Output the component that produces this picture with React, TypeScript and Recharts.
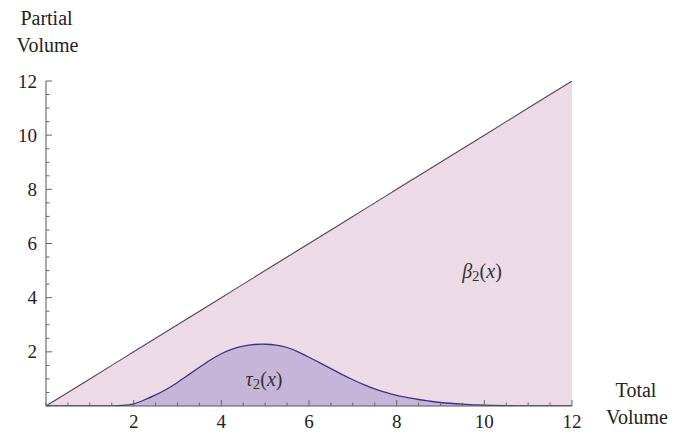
import React from "react";
import { ComposedChart, Area, XAxis, YAxis } from "recharts";

// Total volume sample points
const totalVolume = [0, 1, 1.5, 1.75, 2, 2.25, 2.5, 2.75, 3, 3.25, 3.5, 3.75, 4, 4.25, 4.5, 4.75, 5, 5.25, 5.5, 5.75, 6, 6.25, 6.5, 6.75, 7, 7.25, 7.5, 7.75, 8, 8.25, 8.5, 8.75, 9, 9.5, 10, 10.5, 11, 12];
// beta_2(x): the straight upper boundary
const beta2 = [0, 1, 1.5, 1.75, 2, 2.25, 2.5, 2.75, 3, 3.25, 3.5, 3.75, 4, 4.25, 4.5, 4.75, 5, 5.25, 5.5, 5.75, 6, 6.25, 6.5, 6.75, 7, 7.25, 7.5, 7.75, 8, 8.25, 8.5, 8.75, 9, 9.5, 10, 10.5, 11, 12];
// tau_2(x): the bell-shaped partial volume
const tau2 = [0, 0, 0, 0.02, 0.08, 0.23, 0.41, 0.62, 0.87, 1.15, 1.43, 1.7, 1.93, 2.1, 2.21, 2.27, 2.28, 2.25, 2.16, 2.0, 1.8, 1.59, 1.38, 1.17, 0.97, 0.79, 0.63, 0.5, 0.39, 0.31, 0.24, 0.18, 0.13, 0.07, 0.03, 0.01, 0, 0];

// Axis ticks (majors get labels, minors are short marks)
const xTicks = [0, 0.5, 1, 1.5, 2, 2.5, 3, 3.5, 4, 4.5, 5, 5.5, 6, 6.5, 7, 7.5, 8, 8.5, 9, 9.5, 10, 10.5, 11, 11.5, 12];
const yTicks = [0, 0.5, 1, 1.5, 2, 2.5, 3, 3.5, 4, 4.5, 5, 5.5, 6, 6.5, 7, 7.5, 8, 8.5, 9, 9.5, 10, 10.5, 11, 11.5, 12];
const labeledTicks = [2, 4, 6, 8, 10, 12];

const rows = totalVolume.map((x, i) => ({ x, beta: beta2[i], tau: tau2[i] }));

const FONT = "'Liberation Serif', 'DejaVu Serif', serif";
const TICK_COLOR = "#666";

const XTick = (props: any) => {
  const { x, y, payload } = props;
  const v = payload.value as number;
  const major = labeledTicks.includes(v);
  const len = major ? 6 : 3.5;
  return (
    <g>
      <line x1={x} x2={x} y1={y} y2={y - len} stroke={TICK_COLOR} strokeWidth={1} />
      {major && (
        <text x={x} y={y + 22} textAnchor="middle" fontSize={19} fontFamily={FONT} fill="#222">
          {v}
        </text>
      )}
    </g>
  );
};

const YTick = (props: any) => {
  const { x, y, payload } = props;
  const v = payload.value as number;
  const major = labeledTicks.includes(v);
  const len = major ? 6 : 3.5;
  return (
    <g>
      <line x1={x} x2={x + len} y1={y} y2={y} stroke={TICK_COLOR} strokeWidth={1} />
      {major && (
        <text x={x - 9} y={y + 6.5} textAnchor="end" fontSize={19} fontFamily={FONT} fill="#222">
          {v}
        </text>
      )}
    </g>
  );
};

export default function App() {
  return (
    <div style={{ position: "absolute", left: 0, top: 0, width: 674, height: 432, background: "#fff" }}>
      <ComposedChart
        width={674}
        height={432}
        data={rows}
        margin={{ top: 81, right: 102, bottom: 0, left: 0 }}
      >
        <Area
          dataKey="beta"
          type="linear"
          stroke="#54465a"
          strokeWidth={1.1}
          fill="#ecdae7"
          fillOpacity={1}
          isAnimationActive={false}
        />
        <Area
          dataKey="tau"
          type="natural"
          stroke="#3e3185"
          strokeWidth={1.3}
          fill="#c6b5d9"
          fillOpacity={1}
          isAnimationActive={false}
        />
        <XAxis
          dataKey="x"
          type="number"
          domain={[0, 12]}
          ticks={xTicks}
          interval={0}
          height={26}
          tickSize={0}
          tickMargin={0}
          tickLine={false}
          tick={<XTick />}
          axisLine={{ stroke: "#555", strokeWidth: 1 }}
          allowDataOverflow
        />
        <YAxis
          type="number"
          domain={[0, 12]}
          ticks={yTicks}
          interval={0}
          width={46}
          tickSize={0}
          tickMargin={0}
          tickLine={false}
          tick={<YTick />}
          axisLine={{ stroke: "#555", strokeWidth: 1 }}
          allowDataOverflow
        />
      </ComposedChart>
      <svg
        width={674}
        height={432}
        style={{ position: "absolute", left: 0, top: 0, pointerEvents: "none" }}
        fontFamily={FONT}
        fill="#222"
      >
        <text x={46.5} y={25} textAnchor="middle" fontSize={20}>Partial</text>
        <text x={47.5} y={52} textAnchor="middle" fontSize={20}>Volume</text>
        <text x={636} y={397} textAnchor="middle" fontSize={20}>Total</text>
        <text x={637} y={424} textAnchor="middle" fontSize={20}>Volume</text>
        <text x={482} y={278} textAnchor="middle" fontSize={20} fill="#333">
          <tspan fontStyle="italic">β</tspan>
          <tspan fontSize={15} dy={3}>2</tspan>
          <tspan dy={-3}>(</tspan>
          <tspan fontStyle="italic">x</tspan>
          <tspan>)</tspan>
        </text>
        <text x={264} y={386} textAnchor="middle" fontSize={20} fill="#333">
          <tspan fontStyle="italic">τ</tspan>
          <tspan fontSize={15} dy={3}>2</tspan>
          <tspan dy={-3}>(</tspan>
          <tspan fontStyle="italic">x</tspan>
          <tspan>)</tspan>
        </text>
      </svg>
    </div>
  );
}
